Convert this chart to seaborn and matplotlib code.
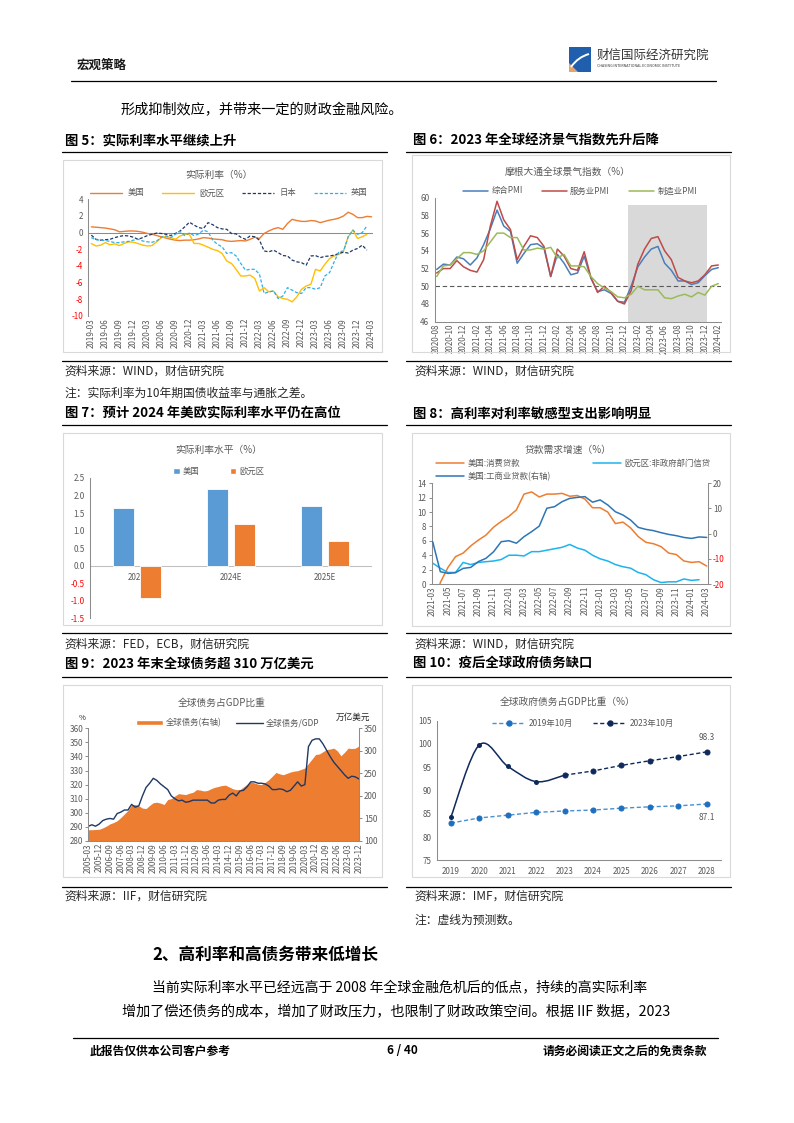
import numpy as np
import pandas as pd
import matplotlib
matplotlib.use('Agg')
import matplotlib.pyplot as plt
import seaborn as sns
from matplotlib.lines import Line2D
from matplotlib.patches import Rectangle, Patch, PathPatch, Polygon
from matplotlib.path import Path

# ======================= DATA =======================
# Fig 5: real interest rates (monthly)
months5 = pd.period_range('2019-03', '2024-03', freq='M').strftime('%Y-%m').tolist()
rr_us = [0.70, 0.65, 0.60, 0.55, 0.45, 0.35, 0.10, 0.15, 0.20, 0.20,
         0.15, 0.05, -0.10, -0.20, -0.35, -0.50, -0.65, -0.80, -0.90, -0.95,
         -0.90, -0.90, -0.85, -0.75, -0.60, -0.65, -0.75, -0.80, -0.85, -1.00,
         -1.05, -1.00, -0.95, -1.00, -0.80, -0.55, -0.70, -0.10, 0.20, 0.45,
         0.60, 0.40, 1.10, 1.60, 1.45, 1.35, 1.35, 1.45, 1.40, 1.20,
         1.35, 1.50, 1.60, 1.75, 2.00, 2.45, 2.20, 1.80, 1.80, 1.95,
         1.90]
rr_ea = [-1.30, -1.60, -1.50, -1.20, -1.45, -1.35, -1.55, -1.30, -1.10, -1.15,
         -1.30, -1.50, -1.60, -1.55, -1.10, -0.60, -0.45, -0.60, -0.80, -0.40,
         -0.20, -0.20, -1.30, -1.30, -1.50, -1.75, -2.00, -2.15, -2.50, -3.40,
         -3.70, -4.40, -5.20, -5.20, -5.10, -5.50, -7.00, -6.60, -7.10, -7.00,
         -7.70, -7.90, -8.00, -8.30, -7.70, -6.80, -6.40, -6.20, -4.40, -4.60,
         -3.80, -3.10, -2.80, -2.60, -2.20, -0.50, 0.30, -0.70, -0.50, -0.20,
         np.nan]
rr_jp = [-0.30, -0.80, -0.90, -0.85, -0.80, -0.60, -0.45, -0.35, -0.40, -0.55,
         -0.80, -0.60, -0.35, -0.20, -0.05, -0.10, -0.20, -0.35, -0.10, 0.20,
         0.70, 1.25, 0.90, 0.60, 0.50, 1.20, 0.95, 0.60, 0.45, 0.40,
         -0.10, -0.15, -0.55, -0.80, -0.40, -0.50, -0.90, -2.20, -2.30, -2.10,
         -2.40, -2.75, -2.80, -3.30, -3.50, -3.60, -3.90, -2.80, -2.75, -3.00,
         -2.85, -2.80, -2.70, -2.50, -2.35, -2.45, -2.10, -1.90, -1.50, -2.10,
         np.nan]
rr_uk = [-0.60, -0.85, -0.90, -0.95, -1.05, -1.20, -1.20, -1.10, -1.05, -0.90,
         -0.80, -1.00, -1.10, -1.15, -1.00, -0.55, -0.40, -0.60, -0.20, 0.15,
         -0.35, -0.05, -0.35, -0.15, 0.30, 0.10, -0.90, -1.40, -1.70, -2.50,
         -2.40, -2.80, -3.70, -4.50, -4.40, -4.40, -5.00, -7.30, -7.10, -7.00,
         -7.90, -7.60, -6.60, -6.90, -7.20, -7.30, -6.60, -6.60, -6.80, -6.60,
         -5.20, -4.80, -3.50, -2.30, -2.20, -0.50, 0.30, -0.20, 0.00, 0.80,
         np.nan]

# Fig 6: JPMorgan global PMI (monthly)
months6 = pd.period_range('2020-08', '2024-02', freq='M').strftime('%Y-%m').tolist()
pmi_comp = [51.9, 52.5, 52.4, 53.3, 53.1, 52.4, 53.2, 54.7, 56.5, 58.6,
            56.8, 56.2, 52.6, 53.7, 54.7, 54.8, 54.3, 51.1, 53.6, 52.6,
            51.3, 51.5, 53.4, 50.9, 49.4, 49.6, 49.2, 48.3, 48.2, 50.0,
            52.2, 53.3, 54.2, 54.5, 52.6, 51.8, 50.6, 50.6, 50.2, 50.4,
            51.2, 51.9, 52.1]
pmi_serv = [51.5, 52.0, 52.0, 52.9, 52.2, 51.8, 51.6, 53.0, 56.8, 59.6,
            57.5, 56.4, 53.0, 54.5, 55.7, 55.5, 54.5, 51.1, 54.2, 53.4,
            52.0, 51.8, 53.9, 51.0, 49.3, 50.0, 49.3, 48.3, 48.0, 49.5,
            52.5, 54.2, 55.4, 55.6, 54.0, 53.0, 51.0, 50.6, 50.4, 50.6,
            51.3, 52.3, 52.4]
pmi_mfg = [51.1, 52.3, 52.4, 53.1, 53.8, 53.8, 53.6, 54.0, 55.0, 56.0,
           56.0, 55.5, 55.5, 54.1, 54.1, 54.3, 54.2, 54.4, 53.2, 53.6,
           52.3, 52.3, 52.2, 51.1, 50.3, 49.8, 49.4, 48.8, 48.7, 49.1,
           50.0, 49.6, 49.6, 49.6, 48.7, 48.6, 48.9, 49.1, 48.8, 49.3,
           49.0, 50.0, 50.3]
shade6 = ['2022-12', '2023-12']
shade6_top = 59.2
pmi_line = 50

# Fig 7: real rate forecasts
cats7 = ['2023', '2024E', '2025E']
bar_us = [1.65, 2.20, 1.70]
bar_ea = [-0.93, 1.20, 0.70]

# Fig 8: loan demand growth (monthly)
months8 = pd.period_range('2021-03', '2024-03', freq='M').strftime('%Y-%m').tolist()
cons_us = [-5.0, 0.2, 2.3, 3.8, 4.3, 5.3, 6.1, 6.8, 7.9, 8.7,
           9.4, 10.3, 12.5, 12.8, 12.1, 12.5, 12.5, 12.6, 12.2, 12.3,
           11.8, 10.6, 10.6, 10.0, 8.4, 8.6, 7.8, 6.6, 5.8, 5.6,
           5.2, 4.3, 4.1, 3.2, 3.0, 3.1, 2.5]
ea_credit = [2.9, 2.2, 1.6, 1.6, 3.0, 2.7, 3.0, 3.1, 3.2, 3.4,
             4.0, 4.0, 3.9, 4.5, 4.5, 4.7, 4.9, 5.1, 5.5, 5.0,
             4.7, 4.0, 3.5, 3.2, 2.7, 2.4, 2.2, 1.6, 1.3, 0.6,
             0.2, 0.3, 0.3, 0.7, 0.5, 0.6, np.nan]
ci_us = [-3.2, -15.1, -15.8, -15.5, -13.8, -13.4, -11.1, -9.8, -7.2, -3.2,
         -2.8, -3.8, -1.2, 0.8, 3.0, 10.1, 10.7, 12.7, 14.0, 14.4,
         14.7, 12.5, 13.4, 11.4, 8.7, 7.4, 5.4, 2.5, 1.7, 1.2,
         0.4, -0.3, -0.8, -1.5, -1.9, -1.3, -1.5]

# Fig 9: global debt (quarterly)
quarters9 = pd.period_range('2005Q1', '2023Q4', freq='Q').asfreq('M', 'end').strftime('%Y-%m').tolist()
debt_total = [125, 125, 125.5, 126, 129, 133, 138, 141, 145, 152,
              160, 168, 180, 181, 178, 173, 172, 179, 185, 186,
              184, 181, 192, 194, 200, 205, 204, 203, 206, 208,
              214, 213, 211, 212, 216, 219, 221, 223, 224, 220,
              216, 214, 214, 220, 226, 231, 229, 226, 225, 230,
              236, 244, 252, 249, 247, 250, 253, 255, 256, 259,
              262, 272, 282, 292, 293, 298, 303, 304, 306, 300,
              289, 297, 306, 305, 306, 311]
debt_ratio = [290.5, 291.5, 290.5, 292, 294.5, 295.5, 296, 295.5, 299.5, 300.5,
              302, 302, 306, 304, 305, 312, 318, 321, 324.5, 323,
              320.5, 318.5, 316.5, 312, 310, 308.5, 309, 307.5, 308, 309,
              309, 309, 309, 309, 307, 307, 309, 309.5, 309.5, 312.5,
              314, 312, 315.5, 316, 318.5, 322, 322, 321, 321, 320.5,
              319, 316.5, 316.5, 317, 316.5, 315, 316, 319, 322, 319,
              320, 347, 351.5, 352.5, 352.5, 349, 344.5, 340, 336, 333,
              330, 327, 324.5, 326, 325.5, 324]

# Fig 10: government debt / GDP
years10 = ['2019', '2020', '2021', '2022', '2023', '2024', '2025', '2026', '2027', '2028']
gov_2019 = [83.0, 84.1, 84.7, 85.3, 85.6, 85.8, 86.2, 86.5, 86.7, 87.1]
gov_2023 = [84.3, 99.8, 95.2, 91.9, 93.3, 94.2, 95.4, 96.4, 97.3, 98.3]
last_actual10 = '2023'

# ======================= STYLE =======================
sns.set_theme(style='white')
plt.rcParams['font.family'] = ['Noto Sans CJK SC', 'DejaVu Sans']
plt.rcParams['axes.unicode_minus'] = False

W, H = 794, 1123
fig = plt.figure(figsize=(W / 100, H / 100), dpi=100)
fig.patch.set_facecolor('white')

TXT = '#595959'
SP = '#8C8C8C'
TFS = 5.8
LFS = 6.0


def fx(x):
    return x / W


def fy(y):
    return 1 - y / H


def add_ax(x0, y0, x1, y1):
    return fig.add_axes([fx(x0), fy(y1), (x1 - x0) / W, (y1 - y0) / H])


def ftext(x, y, s, size=9, **kw):
    kw.setdefault('va', 'center')
    kw.setdefault('ha', 'left')
    return fig.text(fx(x), fy(y), s, fontsize=size, **kw)


def hline(x0, x1, y, lw=0.9, color='black'):
    fig.add_artist(Line2D([fx(x0), fx(x1)], [fy(y), fy(y)], lw=lw, color=color))


def frame(x0, y0, x1, y1):
    fig.add_artist(Rectangle((fx(x0), fy(y1)), (x1 - x0) / W, (y1 - y0) / H,
                             fill=False, ec='#D9D9D9', lw=0.8))


def base_style(ax):
    ax.set_facecolor('none')
    ax.grid(False)
    for s in ax.spines.values():
        s.set_visible(False)
    ax.tick_params(axis='both', which='both', labelsize=TFS, labelcolor=TXT, color=SP,
                   length=0, width=0.7, pad=1.5)
    ax.set_xlabel('')
    ax.set_ylabel('')


def show_spine(ax, side, ticks=True):
    ax.spines[side].set_visible(True)
    ax.spines[side].set_color(SP)
    ax.spines[side].set_linewidth(0.75)
    if ticks:
        axis = 'y' if side in ('left', 'right') else 'x'
        ax.tick_params(axis=axis, which='major', length=2.2, direction='out')


def red_neg(ax):
    for tick, v in zip(ax.yaxis.get_major_ticks(), ax.get_yticks()):
        if v < 0:
            tick.label1.set_color('#FF0000')
            tick.label2.set_color('#FF0000')


def legend_at(ax, handles, labels, cx, cy, ncol, loc='center', **kw):
    args = dict(loc=loc, bbox_to_anchor=(fx(cx), fy(cy)), bbox_transform=fig.transFigure,
                ncol=ncol, frameon=False, fontsize=LFS, labelcolor=TXT, borderpad=0,
                handletextpad=0.5, borderaxespad=0)
    args.update(kw)
    return ax.legend(handles, labels, **args)


def title(x, y, s):
    ftext(x, y, s, 7, ha='center', color=TXT)


DASH = (0, (2.6, 1.5))

# ======================= FIG 5 =======================
frame(63.3, 160, 381.7, 351.7)
ax5 = add_ax(88.3, 199.3, 372.5, 316)
x5 = np.arange(len(months5))
sns.lineplot(x=x5, y=rr_us, ax=ax5, color='#ED7D31', linewidth=1.0, label='美国')
sns.lineplot(x=x5, y=rr_ea, ax=ax5, color='#FFC000', linewidth=1.0, label='欧元区')
sns.lineplot(x=x5, y=rr_jp, ax=ax5, color='#1F3864', linewidth=0.9, linestyle=DASH, label='日本')
sns.lineplot(x=x5, y=rr_uk, ax=ax5, color='#2DB0EA', linewidth=0.9, linestyle=DASH, label='英国')
base_style(ax5)
ax5.set_xlim(-0.65, 60.2)
ax5.set_ylim(-10, 4)
ax5.axhline(0, color=SP, lw=0.75, zorder=1)
show_spine(ax5, 'left')
yt5 = list(range(-10, 5, 2))
ax5.set_yticks(yt5)
ax5.set_yticklabels([str(v) for v in yt5])
red_neg(ax5)
ax5.set_xticks(x5[::3])
ax5.set_xticklabels(months5[::3], rotation=90)
h, l = ax5.get_legend_handles_labels()
legend_at(ax5, h, l, 229, 193, 4, handlelength=3.8, handletextpad=0.6, columnspacing=2.2)
title(219, 175, '实际利率（%）')

# ======================= FIG 6 =======================
frame(411.7, 155, 730, 351.7)
ax6 = add_ax(434.5, 197.7, 720.5, 321.7)
x6 = np.arange(len(months6))
s0, s1 = months6.index(shade6[0]), months6.index(shade6[1])
ax6.fill_between([s0 + 0.6, s1 + 0.3], 46, shade6_top, color='#D9D9D9', lw=0, zorder=0)
ax6.axhline(pmi_line, color='#595959', lw=0.8, ls=(0, (4, 2.5)), zorder=1)
sns.lineplot(x=x6, y=pmi_comp, ax=ax6, color='#4A7EBB', linewidth=1.1, label='综合PMI')
sns.lineplot(x=x6, y=pmi_serv, ax=ax6, color='#BE4B48', linewidth=1.1, label='服务业PMI')
sns.lineplot(x=x6, y=pmi_mfg, ax=ax6, color='#9BBB59', linewidth=1.1, label='制造业PMI')
base_style(ax6)
ax6.set_xlim(-0.33, 42.33)
ax6.set_ylim(46, 60)
show_spine(ax6, 'left')
show_spine(ax6, 'bottom', ticks=False)
yt6 = list(range(46, 61, 2))
ax6.set_yticks(yt6)
ax6.set_yticklabels([str(v) for v in yt6])
ax6.set_xticks(x6[::2])
ax6.set_xticklabels(months6[::2], rotation=90)
h, l = ax6.get_legend_handles_labels()
legend_at(ax6, h, l, 580, 191, 3, handlelength=3.0, handletextpad=0.4, columnspacing=2.3)
title(568, 172, '摩根大通全球景气指数（%）')

# ======================= FIG 7 =======================
frame(63, 433, 382, 625)
ax7 = add_ax(90, 478, 372, 618.3)
df7 = pd.DataFrame({'cat': cats7 * 2,
                    'series': ['美国'] * len(cats7) + ['欧元区'] * len(cats7),
                    'val': bar_us + bar_ea})
c7 = ['#5B9BD5', '#ED7D31']
sns.barplot(data=df7, x='cat', y='val', hue='series', palette=c7, saturation=1,
            width=0.58, gap=0.22, ax=ax7, legend=False, edgecolor='white', linewidth=0.6)
base_style(ax7)
ax7.set_xlim(-0.5, 2.5)
ax7.set_ylim(-1.5, 2.5)
ax7.axhline(0, color='#BFBFBF', lw=0.75, zorder=0.6)
show_spine(ax7, 'left')
yt7 = list(np.arange(-1.5, 2.51, 0.5))
ax7.set_yticks(yt7)
ax7.set_yticklabels([f'{v:.1f}' for v in yt7])
red_neg(ax7)
ax7.set_xticks([])
for i, c in enumerate(cats7):
    ax7.annotate(c, (i, 0), xytext=(0, -8.4), textcoords='offset points', ha='center',
                 va='center', fontsize=TFS, color=TXT, zorder=0.5)
legend_at(ax7, [Patch(fc=c7[0]), Patch(fc=c7[1])], ['美国', '欧元区'], 219, 471, 2,
          handlelength=0.75, handleheight=0.75, handletextpad=0.4, columnspacing=3.6)
title(219, 450, '实际利率水平（%）')

# ======================= FIG 8 =======================
frame(412, 433, 730, 626)
ax8 = add_ax(431.7, 483.3, 707.7, 584)
ax8r = ax8.twinx()
x8 = np.arange(len(months8))
sns.lineplot(x=x8, y=cons_us, ax=ax8, color='#ED7D31', linewidth=1.1, label='美国:消费贷款')
sns.lineplot(x=x8, y=ea_credit, ax=ax8, color='#1CB4EE', linewidth=1.1, label='欧元区:非政府部门信贷')
sns.lineplot(x=x8, y=ci_us, ax=ax8r, color='#2E75B6', linewidth=1.1, label='美国:工商业贷款(右轴)')
for a in (ax8, ax8r):
    if a.get_legend() is not None:
        a.get_legend().remove()
    base_style(a)
    a.set_xlim(-0.13, 36.13)
ax8.set_ylim(0, 14)
ax8r.set_ylim(-20, 20)
show_spine(ax8, 'left')
show_spine(ax8, 'bottom', ticks=False)
show_spine(ax8r, 'right')
yt8 = list(range(0, 15, 2))
ax8.set_yticks(yt8)
ax8.set_yticklabels([str(v) for v in yt8])
yt8r = list(range(-20, 21, 10))
ax8r.set_yticks(yt8r)
ax8r.set_yticklabels([str(v) for v in yt8r])
red_neg(ax8r)
ax8.set_xticks(x8[::2])
ax8.set_xticklabels(months8[::2], rotation=90)
h1, l1 = ax8.get_legend_handles_labels()
h2, l2 = ax8r.get_legend_handles_labels()
legend_at(ax8r, [h1[0], h2[0], h1[1]], [l1[0], l2[0], l1[1]], 436, 459, 2, loc='upper left',
          handlelength=3.4, handletextpad=0.4, columnspacing=5.0, labelspacing=0.5)
title(568, 450, '贷款需求增速（%）')

# ======================= FIG 9 =======================
frame(63, 685, 382, 877)
ax9 = add_ax(88.3, 728.3, 359, 841)
ax9r = ax9.twinx()
ax9.set_zorder(ax9r.get_zorder() + 1)
x9 = np.arange(len(quarters9))
c_area = '#ED7D31'
c_line9 = '#1F3864'
ax9r.fill_between(x9, 100, debt_total, color=c_area, lw=0)
sns.lineplot(x=x9, y=debt_ratio, ax=ax9, color=c_line9, linewidth=1.0)
for a in (ax9, ax9r):
    base_style(a)
    a.set_xlim(0, 75)
ax9.patch.set_visible(False)
ax9.set_ylim(280, 360)
ax9r.set_ylim(100, 350)
show_spine(ax9, 'left')
show_spine(ax9, 'bottom', ticks=False)
show_spine(ax9r, 'right')
yt9 = list(range(280, 361, 10))
ax9.set_yticks(yt9)
ax9.set_yticklabels([str(v) for v in yt9])
yt9r = list(range(100, 351, 50))
ax9r.set_yticks(yt9r)
ax9r.set_yticklabels([str(v) for v in yt9r])
ax9.set_xticks(x9[::3])
ax9.set_xticklabels(quarters9[::3], rotation=90)
legend_at(ax9, [Patch(fc=c_area), Line2D([], [], color=c_line9, lw=1.0)],
          ['全球债务(右轴)', '全球债务/GDP'], 228, 723, 2,
          handlelength=3.2, handleheight=0.55, handletextpad=0.4, columnspacing=1.7)
title(222, 703, '全球债务占GDP比重')
ftext(82, 718, '%', 5.5, ha='center', color='#262626')
ftext(353, 717, '万亿美元', 6.2, ha='center', color='#262626')

# ======================= FIG 10 =======================
frame(412, 685, 730, 877)
ax10 = add_ax(436.7, 720.7, 721, 860.3)
x10 = np.arange(len(years10))
k = years10.index(last_actual10)
c19_line, c19_mk = '#4A90D0', '#1E6FBF'
c23 = '#0E2A5C'
sns.lineplot(x=x10, y=gov_2019, ax=ax10, color=c19_line, linewidth=1.0, linestyle=(0, (3, 1.8)),
             marker='o', markersize=3.6, markerfacecolor=c19_mk, markeredgecolor=c19_mk)
sns.lineplot(x=x10[k:], y=gov_2023[k:], ax=ax10, color=c23, linewidth=1.0, linestyle=(0, (3, 1.8)),
             marker='o', markersize=3.6, markerfacecolor=c23, markeredgecolor=c23)
sns.scatterplot(x=x10[:k], y=gov_2023[:k], ax=ax10, color=c23, s=13, edgecolor=c23, linewidth=0, zorder=4)


def smooth_path(xs, ys):
    pts = np.column_stack([xs, ys]).astype(float)
    n = len(pts)
    verts, codes = [pts[0]], [Path.MOVETO]
    for i in range(n - 1):
        p0 = pts[i - 1] if i > 0 else pts[i]
        p1, p2 = pts[i], pts[i + 1]
        p3 = pts[i + 2] if i + 2 < n else pts[i + 1]
        verts += [p1 + (p2 - p0) / 6, p2 - (p3 - p1) / 6, p2]
        codes += [Path.CURVE4] * 3
    return Path(verts, codes)


ax10.add_patch(PathPatch(smooth_path(x10[:k + 1], gov_2023[:k + 1]), fill=False, ec=c23, lw=1.1))
base_style(ax10)
ax10.set_xlim(-0.5, 9.5)
ax10.set_ylim(75, 105)
show_spine(ax10, 'left')
show_spine(ax10, 'bottom', ticks=False)
yt10 = list(range(75, 106, 5))
ax10.set_yticks(yt10)
ax10.set_yticklabels([str(v) for v in yt10])
ax10.set_xticks(x10)
ax10.set_xticklabels(years10)
ax10.set_xticks(np.arange(-0.5, 9.6, 1), minor=True)
ax10.tick_params(axis='x', which='minor', length=2.2, direction='out', color=SP)
ax10.tick_params(axis='x', which='major', pad=5)
ax10.annotate(f'{gov_2023[-1]:.1f}', (x10[-1], gov_2023[-1]), xytext=(0, 10), textcoords='offset points',
              ha='center', va='center', fontsize=6, color=TXT)
ax10.annotate(f'{gov_2019[-1]:.1f}', (x10[-1], gov_2019[-1]), xytext=(0, -10), textcoords='offset points',
              ha='center', va='center', fontsize=6, color=TXT)
legend_at(ax10,
          [Line2D([], [], color=c19_line, lw=1.0, ls=(0, (3, 1.8)), marker='o', markersize=3.6,
                  markerfacecolor=c19_mk, markeredgecolor=c19_mk),
           Line2D([], [], color=c23, lw=1.0, ls=(0, (3, 1.8)), marker='o', markersize=3.6,
                  markerfacecolor=c23, markeredgecolor=c23)],
          ['2019年10月', '2023年10月'], 583, 723, 2,
          handlelength=4.0, handletextpad=0.4, columnspacing=2.4)
title(568, 702, '全球政府债务占GDP比重（%）')

# ======================= PAGE TEXT =======================
# header
ftext(77, 65, '宏观策略', 9, weight='bold', color='#1a1a1a')
fig.add_artist(Rectangle((fx(569), fy(72)), 22 / W, 25 / H, fc='#1F5FAD', ec='none'))
fig.add_artist(Polygon([[fx(569), fy(72)], [fx(578), fy(72)], [fx(569), fy(63)]],
                       closed=True, fc='#E8A36A', ec='none'))
fig.add_artist(PathPatch(Path([(fx(571), fy(67)), (fx(578), fy(57)), (fx(589), fy(54))],
                              [Path.MOVETO, Path.CURVE3, Path.CURVE3]),
                         fill=False, ec='white', lw=1.4))
ftext(597, 55, '财信国际经济研究院', 9, color='#333333')
ftext(597, 66, 'CHASING INTERNATIONAL ECONOMIC INSTITUTE', 2.6, color='#333333')
hline(71, 716, 80.7)

ftext(121, 110.5, '形成抑制效应，并带来一定的财政金融风险。', 10.2, color='black')

# captions and rules
for y in (151.5, 361, 425, 633, 677, 886.5):
    hline(62, 387, y)
    hline(406, 731, y)
CAP = dict(weight='bold', color='black')
ftext(65, 141, '图 5：实际利率水平继续上升', 9.6, **CAP)
ftext(413, 141, '图 6：2023 年全球经济景气指数先升后降', 9.6, **CAP)
ftext(65, 413.5, '图 7：预计 2024 年美欧实际利率水平仍在高位', 9.6, **CAP)
ftext(413, 413.5, '图 8：高利率对利率敏感型支出影响明显', 9.6, **CAP)
ftext(65, 664, '图 9：2023 年末全球债务超 310 万亿美元', 9.6, **CAP)
ftext(413, 664, '图 10：疫后全球政府债务缺口', 9.6, **CAP)

SRC = dict(color='#262626')
ftext(64, 371, '资料来源：WIND，财信研究院', 8.5, **SRC)
ftext(64, 393, '注：实际利率为10年期国债收益率与通胀之差。', 8.5, **SRC)
ftext(414, 371, '资料来源：WIND，财信研究院', 8.5, **SRC)
ftext(64, 644, '资料来源：FED，ECB，财信研究院', 8.5, **SRC)
ftext(414, 644, '资料来源：WIND，财信研究院', 8.5, **SRC)
ftext(64, 896, '资料来源：IIF，财信研究院', 8.5, **SRC)
ftext(414, 896, '资料来源：IMF，财信研究院', 8.5, **SRC)
ftext(414, 920, '注：虚线为预测数。', 8.5, **SRC)

ftext(152, 955, '2、高利率和高债务带来低增长', 12, weight='bold', color='black')
ftext(152, 988, '当前实际利率水平已经远高于 2008 年全球金融危机后的低点，持续的高实际利率', 10.0, color='black')
ftext(122, 1012, '增加了偿还债务的成本，增加了财政压力，也限制了财政政策空间。根据 IIF 数据，2023', 10.2, color='black')

# footer
hline(73, 718, 1038)
ftext(90, 1051, '此报告仅供本公司客户参考', 8.5, weight='bold', color='black')
ftext(402, 1051, '6 / 40', 8.5, weight='bold', color='black', ha='center')
ftext(707, 1051, '请务必阅读正文之后的免责条款', 8.5, weight='bold', color='black', ha='right')

fig.savefig('out.png', dpi=100, facecolor='white')
